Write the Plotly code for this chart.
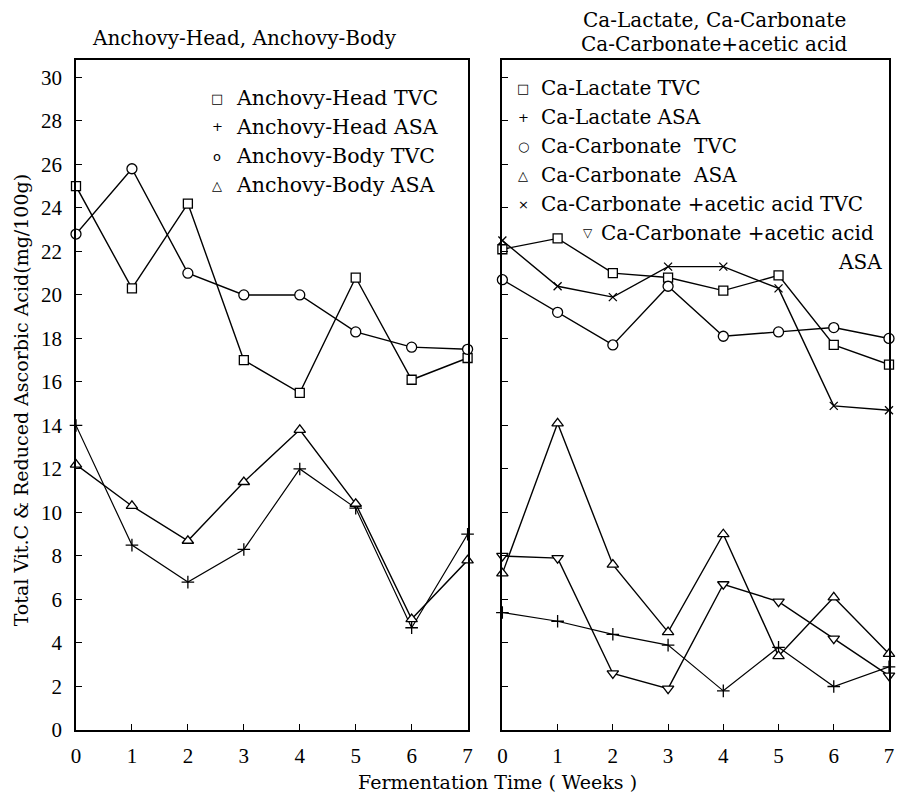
import plotly.graph_objects as go

# ---------------- data ----------------
weeks = [0, 1, 2, 3, 4, 5, 6, 7]
week_labels = ["0", "1", "2", "3", "4", "5", "6", "7"]
y_ticks = list(range(0, 31, 2))

# Left panel: Anchovy
ah_tvc = [25.0, 20.3, 24.2, 17.0, 15.5, 20.8, 16.1, 17.1]
ah_asa = [14.0, 8.5, 6.8, 8.3, 12.0, 10.2, 4.7, 9.0]
ab_tvc = [22.8, 25.8, 21.0, 20.0, 20.0, 18.3, 17.6, 17.5]
ab_asa = [12.2, 10.3, 8.7, 11.4, 13.8, 10.4, 5.1, 7.8]

# Right panel: calcium salts
cl_tvc = [22.1, 22.6, 21.0, 20.8, 20.2, 20.9, 17.7, 16.8]
cl_asa = [5.4, 5.0, 4.4, 3.9, 1.8, 3.8, 2.0, 2.9]
cc_tvc = [20.7, 19.2, 17.7, 20.4, 18.1, 18.3, 18.5, 18.0]
cc_asa = [7.2, 14.1, 7.6, 4.5, 9.0, 3.4, 6.1, 3.5]
cca_tvc = [22.5, 20.4, 19.9, 21.3, 21.3, 20.3, 14.9, 14.7]
cca_asa = [8.0, 7.9, 2.6, 1.9, 6.7, 5.9, 4.2, 2.5]

left_legend = [("□", "Anchovy-Head TVC"), ("+", "Anchovy-Head ASA"),
               ("o", "Anchovy-Body TVC"), ("△", "Anchovy-Body ASA")]
right_legend = [("□", "Ca-Lactate TVC"), ("+", "Ca-Lactate ASA"),
                ("○", "Ca-Carbonate  TVC"), ("△", "Ca-Carbonate  ASA"),
                ("×", "Ca-Carbonate +acetic acid TVC"),
                ("▽", "Ca-Carbonate +acetic acid")]

# ---------------- geometry (screen pixels; page body has 8px margin) ----------------
OFF = 8
W, H = 888, 788
ML, MR, MT, MB = 68, 2, 52, 66
PW = W - ML - MR
PH = H - MT - MB
X0 = OFF + ML          # screen x of plot-area left
YB = OFF + H - MB      # screen y of plot-area bottom


def px(x):
    return (x - X0) / PW


def py(y):
    return (YB - y) / PH


TXT = "DejaVu Serif"
NUM = "Liberation Serif"

fig = go.Figure()


def add(y, sym, size, xa, ya, lw=1.4):
    fig.add_trace(go.Scatter(
        x=weeks, y=y, mode="lines+markers",
        line=dict(color="black", width=lw),
        marker=dict(symbol=sym, size=size, color="white",
                    line=dict(color="black", width=1.3)),
        xaxis=xa, yaxis=ya, cliponaxis=False, showlegend=False))


add(ah_tvc, "square", 9, "x", "y")
add(ah_asa, "cross-thin", 9, "x", "y", lw=1.2)
add(ab_tvc, "circle", 10, "x", "y")
add(ab_asa, "triangle-up", 10, "x", "y")

add(cl_tvc, "square", 9, "x2", "y2")
add(cl_asa, "cross-thin", 9, "x2", "y2", lw=1.2)
add(cc_tvc, "circle", 10, "x2", "y2")
add(cc_asa, "triangle-up", 10, "x2", "y2")
add(cca_tvc, "x-thin", 8, "x2", "y2")
add(cca_asa, "triangle-down", 10, "x2", "y2")

axis_common = dict(showline=True, linecolor="black", linewidth=1.5, mirror=True,
                   showgrid=False, zeroline=False, ticks="inside", ticklen=6,
                   tickcolor="black", tickwidth=1.2,
                   tickfont=dict(family=NUM, size=21, color="black"))

fig.update_layout(
    width=W, height=H,
    margin=dict(l=ML, r=MR, t=MT, b=MB),
    paper_bgcolor="white", plot_bgcolor="white",
    xaxis=dict(domain=[0, px(470)], range=[0, 7], tickvals=weeks,
               ticktext=week_labels, anchor="y", ticklabelstandoff=6,
               **axis_common),
    yaxis=dict(domain=[0, 1], range=[0, 30.8], tickvals=y_ticks, anchor="x",
               ticklabelstandoff=8, **axis_common),
    xaxis2=dict(domain=[px(505), 1], range=[0, 7], tickvals=weeks,
                ticktext=week_labels, anchor="y2", ticklabelstandoff=6,
                **axis_common),
    yaxis2=dict(domain=[0, 1], range=[0, 30.8], tickvals=y_ticks, anchor="x2",
                showticklabels=False, **axis_common),
)

ann = []


def text(x, y, s, size=19, xanchor="center", family=TXT, angle=0):
    ann.append(dict(x=px(x), y=py(y), xref="paper", yref="paper", text=s,
                    showarrow=False, xanchor=xanchor, yanchor="middle",
                    textangle=angle,
                    font=dict(family=family, size=size, color="black")))


# panel titles
text(246, 38, "Anchovy-Head, Anchovy-Body", size=20)
text(718, 20, "Ca-Lactate, Ca-Carbonate", size=20)
text(718, 44, "Ca-Carbonate+acetic acid", size=20)

# left legend
for i, (sym, lab) in enumerate(left_legend):
    yy = 98 + 29 * i
    text(218, yy, sym, size=13, family="DejaVu Sans")
    text(235, yy, lab, size=20.5, xanchor="left")

# right legend
for i, (sym, lab) in enumerate(right_legend):
    yy = 88 + 29 * i
    if i < 5:
        text(526, yy, sym, size=13, family="DejaVu Sans")
        text(542, yy, lab, size=20, xanchor="left")
    else:
        text(591, yy, sym, size=12, family="DejaVu Sans")
        text(602, yy, lab, size=20, xanchor="left")
text(889, 262, "ASA", size=20, xanchor="right")

# axis titles
text(500, 782, "Fermentation Time ( Weeks )", size=19)
text(21, 400, "Total Vit.C & Reduced Ascorbic Acid(mg/100g)", size=19, angle=-90)

fig.update_layout(annotations=ann)
fig.write_html("out.html")
